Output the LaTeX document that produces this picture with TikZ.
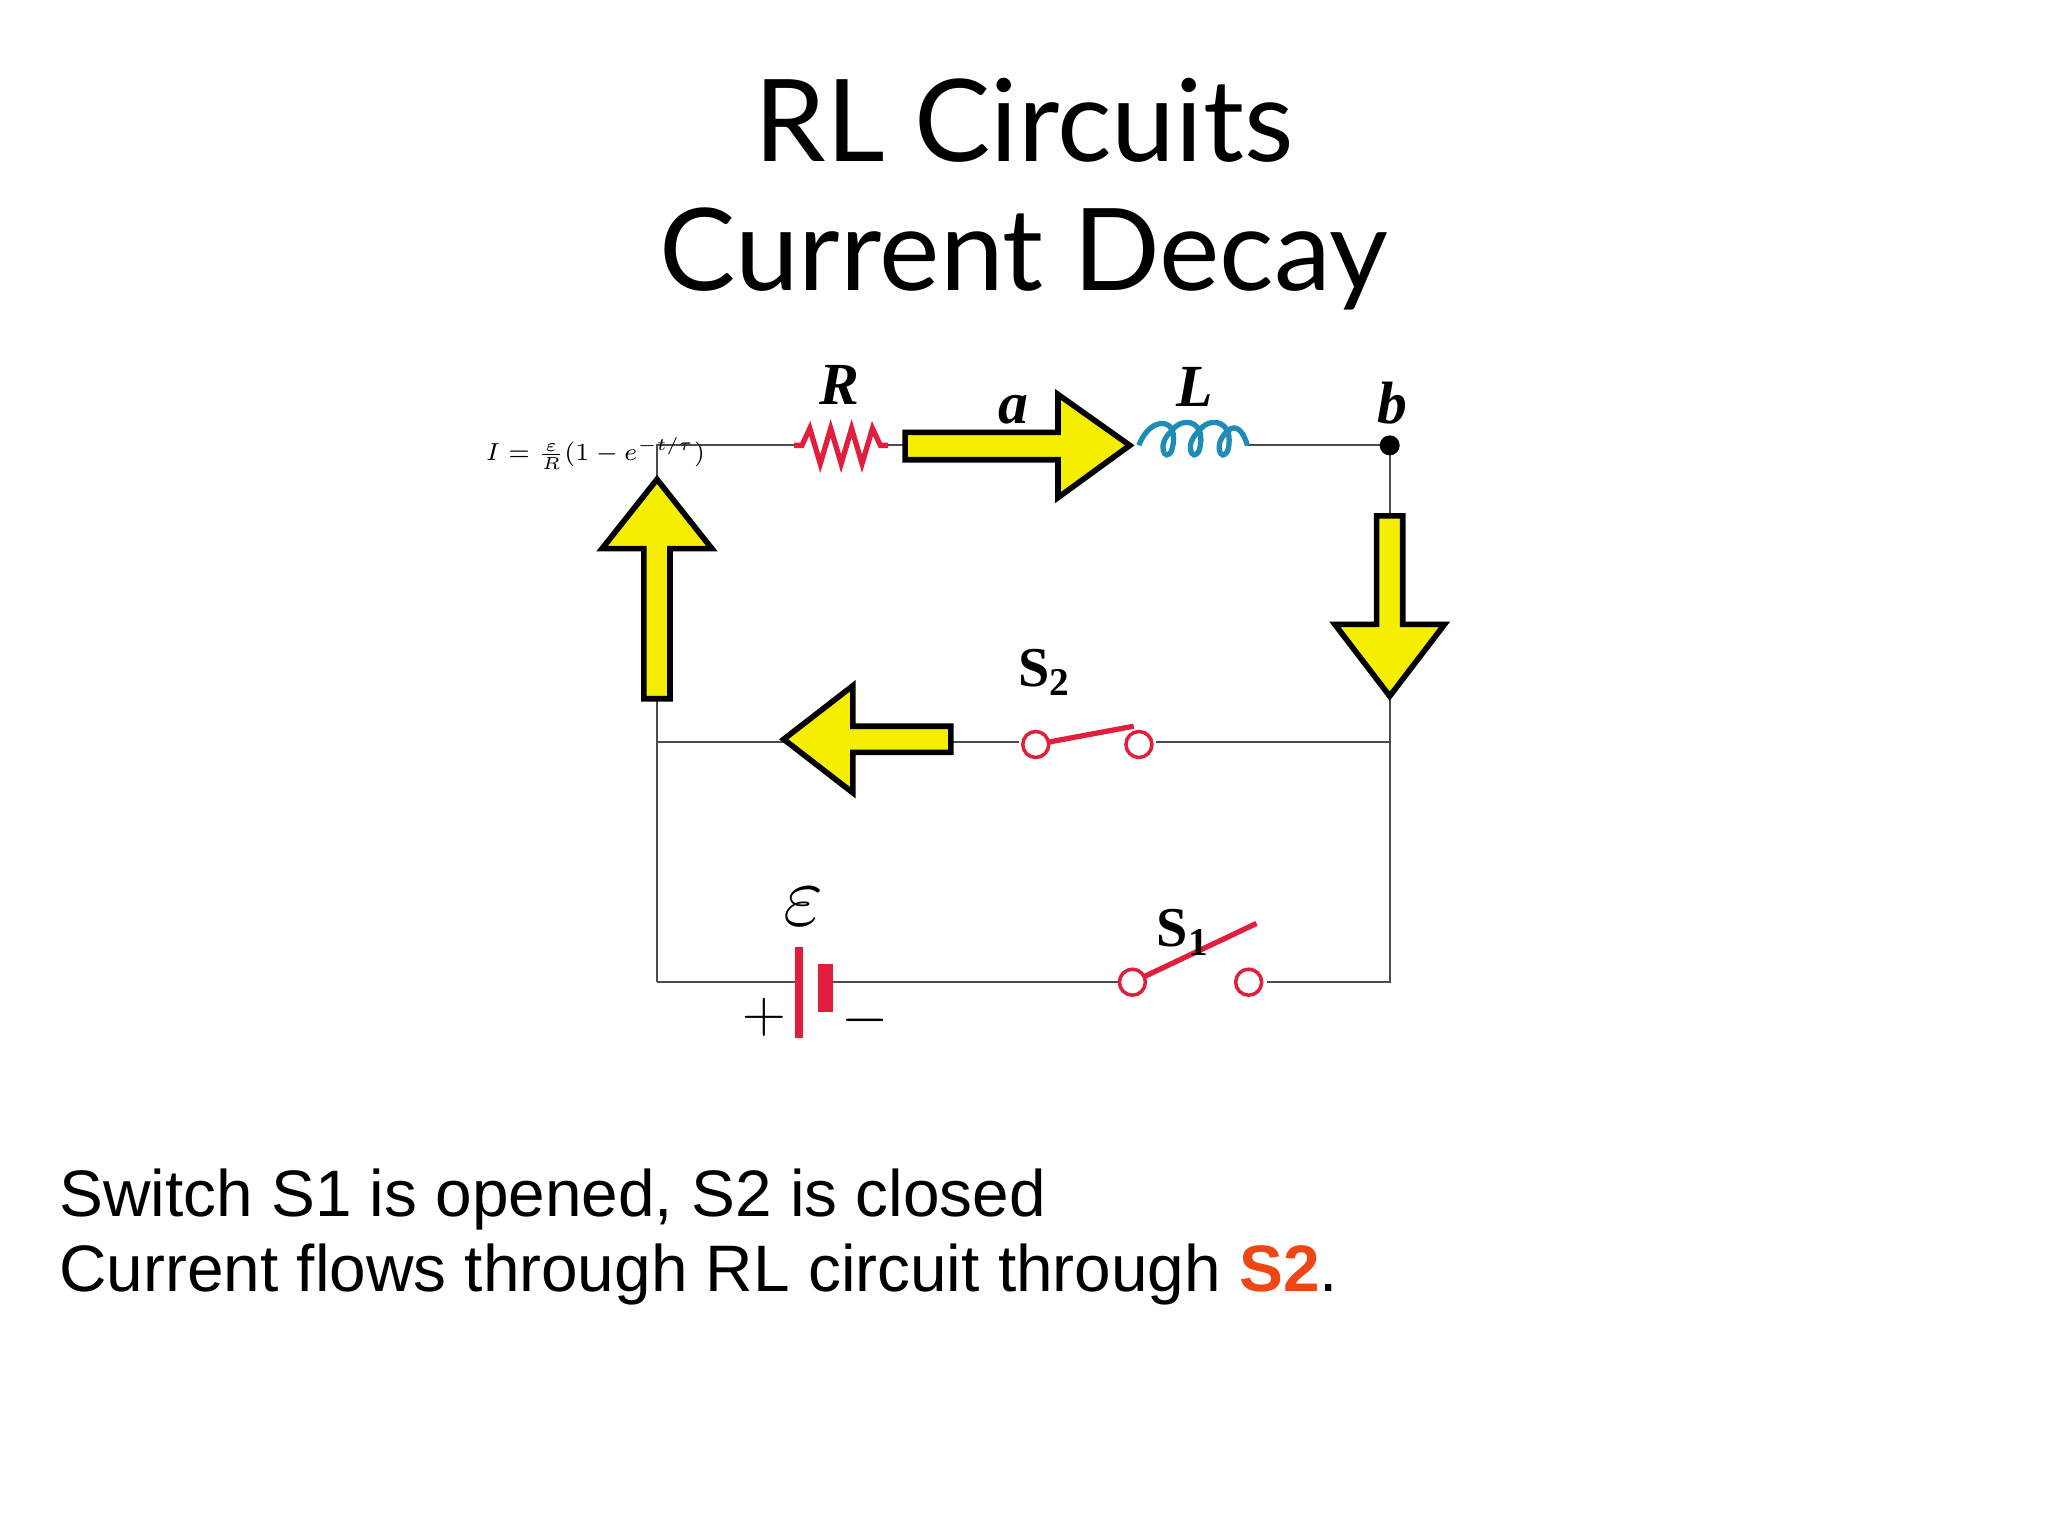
\documentclass[tikz,border=0pt]{standalone}
\usepackage{fontspec}
\setmainfont{Liberation Sans}
\newfontfamily\ttl{Lato}
\newfontfamily\srf{Liberation Serif}
\definecolor{ylw}{RGB}{245,238,0}
\definecolor{cred}{RGB}{225,30,60}
\definecolor{cblue}{RGB}{30,140,180}
\definecolor{orng}{RGB}{240,70,20}
\begin{document}
\begin{tikzpicture}[x=0.01306cm,y=-0.01306cm,
  wire/.style={draw=black!70,line width=0.6pt},
  yarrow/.style={fill=ylw,draw=black,line width=1.6pt,line join=miter},
  term/.style={circle,draw=cred,fill=white,line width=1pt,minimum size=0.26cm,inner sep=0pt},
  lbl/.style={font=\srf\fontsize{17}{17}\selectfont\itshape\bfseries}]
\useasboundingbox (0,0) rectangle (1568,1176);
% title
\node[font=\ttl\fontsize{32.5}{32.5}\selectfont] (t1) at (784,92) {RL Circuits};
\node[font=\ttl\fontsize{32.5}{32.5}\selectfont] (t2) at (784,198) {Current Decay};
% wires
\draw[wire] (503,752) -- (503,341) -- (608,341);
\draw[wire] (680,341) -- (693,341);
\draw[wire] (955,341) -- (1064,341) -- (1064,752) -- (970,752);
\draw[wire] (503,568) -- (780,568);
\draw[wire] (885,568) -- (1064,568);
\draw[wire] (503,752) -- (612,752);
\draw[wire] (632,752) -- (860,752);
\fill (1064,341) circle (0.1cm);
% resistor
\draw[cred,line width=1.5pt,line join=miter] (608,341) -- (614,341) -- (620,328) -- (628,355) -- (636,328) -- (644,355) -- (652,328) -- (660,355) -- (668,328) -- (674,341) -- (680,341);
% inductor
\draw[cblue,line width=1.5pt] (872,341) .. controls (880,318) and (905,318) .. (897,345) .. controls (892,355) and (885,340) .. (897,330)
  .. controls (905,318) and (925,322) .. (918,345) .. controls (913,355) and (906,340) .. (918,330)
  .. controls (926,318) and (946,322) .. (940,345) .. controls (935,355) and (928,340) .. (940,330)
  .. controls (946,324) and (952,330) .. (955,341);
% battery
\draw[cred,line width=2.2pt] (612,725) -- (612,795);
\draw[cred,line width=4pt] (632,738) -- (632,775);
% switches
\draw[cred,line width=1.5pt] (793,570) -- (868,556);
\node[term] (s2a) at (793,570) {};
\node[term] (s2b) at (872,570) {};
\draw[cred,line width=1.5pt] (867,752) -- (962,707);
\node[term] (s1a) at (867,752) {};
\node[term] (s1b) at (956,752) {};
% labels
\node[lbl] (lR) at (643,295) {R};
\node[lbl] (la) at (776,314) {a};
\node[lbl] (lL) at (915,296) {L};
\node[lbl] (lb) at (1066,309) {b};
\node[font=\srf\fontsize{16}{16}\selectfont\bfseries] (lS2) at (800,515) {S\textsubscript{2}};
\node[font=\srf\fontsize{16}{16}\selectfont\bfseries] (lS1) at (906,714) {S\textsubscript{1}};
\node[font=\fontsize{24}{24}\selectfont] (leps) at (615,694) {$\varepsilon$};
\node[font=\fontsize{16}{16}\selectfont] (lp) at (585,779) {$+$};
\node[font=\fontsize{16}{16}\selectfont] (lm) at (662,781) {$-$};
\node[font=\fontsize{7}{7}\selectfont] (eq) at (456,347) {$I=\frac{\varepsilon}{R}(1-e^{-t/\tau})$};
% yellow arrows
\draw[yarrow] (693,331) -- (810,331) -- (810,302) -- (865,341) -- (810,381) -- (810,352) -- (693,352) -- cycle;
\draw[yarrow] (1054,395) -- (1054,478) -- (1022,478) -- (1064,533) -- (1106,478) -- (1074,478) -- (1074,395) -- cycle;
\draw[yarrow] (493,535) -- (493,420) -- (461,420) -- (503,367) -- (545,420) -- (513,420) -- (513,535) -- cycle;
\draw[yarrow] (728,556) -- (653,556) -- (653,525) -- (600,566) -- (653,607) -- (653,576) -- (728,576) -- cycle;
% caption
\node[anchor=west,font=\fontsize{18.7}{18.7}\selectfont] (c1) at (36,918) {Switch S1 is opened, S2 is closed};
\node[anchor=west,font=\fontsize{18.7}{18.7}\selectfont] (c2) at (36,976) {Current flows through RL circuit through {\color{orng}\bfseries S2}.};
\end{tikzpicture}
\end{document}
